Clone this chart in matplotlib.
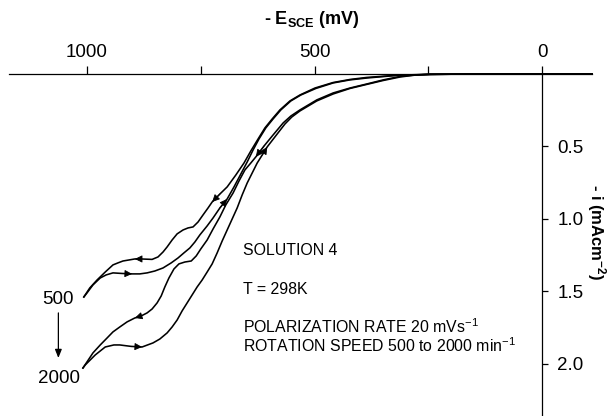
import numpy as np
import matplotlib
matplotlib.use("Agg")
import matplotlib.pyplot as plt

plt.rcParams['font.family'] = ['Liberation Sans', 'DejaVu Sans']
plt.rcParams['mathtext.fontset'] = 'custom'
plt.rcParams['mathtext.rm'] = 'Liberation Sans'
plt.rcParams['mathtext.it'] = 'Liberation Sans:italic'
plt.rcParams['mathtext.bf'] = 'Liberation Sans:bold'

# ---- data: -E (mV) vs -i (mA cm^-2) ----
# 500 min^-1, upper branch
A_E = [1007, 994, 978, 960, 943, 932, 921, 895, 881, 857, 844, 833, 824, 813, 802, 789, 778, 767, 756, 745, 734, 725, 708, 692,
       673, 655, 640, 624, 609, 593, 576, 554, 532, 499, 459, 422, 385, 319, 246, 136, -110]
A_i = [1.538, 1.476, 1.421, 1.366, 1.317, 1.303, 1.290, 1.276, 1.276, 1.279, 1.262, 1.228, 1.193, 1.145, 1.103, 1.076, 1.062, 1.055, 1.021, 0.972, 0.924, 0.883, 0.828, 0.779,
       0.697, 0.614, 0.531, 0.448, 0.372, 0.310, 0.248, 0.186, 0.145, 0.097, 0.059, 0.038, 0.024, 0.009, 0.002, 0.0, 0.0]
A_arrows = [895, 725]
# 500 min^-1, lower branch
B_E = [1007, 1000, 987, 971, 958, 943, 923, 901, 884, 868, 851, 833, 815, 800, 787, 774, 763, 752, 736, 723, 708, 692,
       677, 662, 648, 635, 622, 607, 591, 574, 552, 530, 497, 459, 422, 385, 319, 246, 136, -110]
B_i = [1.538, 1.510, 1.455, 1.407, 1.386, 1.372, 1.376, 1.379, 1.379, 1.372, 1.359, 1.338, 1.303, 1.269, 1.234, 1.200, 1.159, 1.110, 1.048, 0.993, 0.924, 0.862,
       0.779, 0.690, 0.607, 0.524, 0.448, 0.372, 0.310, 0.248, 0.186, 0.145, 0.100, 0.062, 0.041, 0.028, 0.010, 0.003, 0.0, 0.0]
B_arrows = [901, 692]
# 2000 min^-1, upper branch
C_E = [1009, 987, 971, 956, 943, 928, 912, 895, 881, 868, 857, 846, 837, 829, 820, 809, 798, 785, 771, 760, 750, 736, 723, 708,
       695, 679, 666, 653, 640, 629, 611, 593, 569, 552, 532, 495, 459, 422, 385, 349, 312, 279, 246, 136, -110]
C_i = [2.028, 1.924, 1.869, 1.821, 1.779, 1.745, 1.710, 1.683, 1.669, 1.648, 1.621, 1.579, 1.531, 1.469, 1.407, 1.345, 1.310, 1.297, 1.290, 1.255, 1.207, 1.145, 1.069, 0.986,
       0.903, 0.821, 0.738, 0.662, 0.614, 0.572, 0.497, 0.428, 0.338, 0.290, 0.248, 0.179, 0.131, 0.097, 0.069, 0.041, 0.017, 0.007, 0.003, 0.0, 0.0]
C_arrows = [895, 629]
# 2000 min^-1, lower branch
D_E = [1009, 1004, 982, 960, 941, 928, 903, 879, 855, 840, 824, 813, 802, 791, 780, 769, 758, 747, 736, 725, 714, 703, 692,
       681, 670, 659, 648, 637, 626, 615, 604, 587, 565, 550, 532, 495, 459, 422, 385, 349, 312, 279, 246, 136, -110]
D_i = [2.028, 2.007, 1.938, 1.883, 1.869, 1.869, 1.879, 1.883, 1.855, 1.828, 1.786, 1.745, 1.697, 1.634, 1.579, 1.524, 1.469, 1.421, 1.366, 1.310, 1.234, 1.152, 1.076,
       1.000, 0.924, 0.834, 0.752, 0.683, 0.614, 0.559, 0.503, 0.434, 0.345, 0.297, 0.255, 0.186, 0.138, 0.100, 0.072, 0.045, 0.021, 0.008, 0.003, 0.0, 0.0]
D_arrows = [879, 604]

x_ticks = [1000, 750, 500, 250, 0]
x_ticklabels = ['1000', '', '500', '', '0']
y_ticks = [0.5, 1.0, 1.5, 2.0]
y_ticklabels = ['0.5', '1.0', '1.5', '2.0']

fig = plt.figure(figsize=(6.11, 4.16), dpi=100)
ax = fig.add_axes([0, 0, 1, 1])
ax.set_xlim(1191.3, -151.6)
ax.set_ylim(2.359, -0.510)
ax.patch.set_alpha(0)

curves = [(A_E, A_i, A_arrows, 1), (B_E, B_i, B_arrows, -1),
          (C_E, C_i, C_arrows, 1), (D_E, D_i, D_arrows, -1)]
for E, I, arr, d in curves:
    ax.plot(E, I, color='black', lw=1.15, solid_joinstyle='round', zorder=3)
    for val in arr:
        k = E.index(val)
        ax.annotate('', xy=(E[k], I[k]), xytext=(E[k + d], I[k + d]),
                    arrowprops=dict(arrowstyle='-|>,head_length=0.45,head_width=0.22',
                                    color='black', lw=0.6, shrinkA=0, shrinkB=0),
                    zorder=4)

for s in ['left', 'bottom']:
    ax.spines[s].set_visible(False)
ax.spines['top'].set_position(('data', 0))
ax.spines['top'].set_bounds(1171, -110)
ax.spines['right'].set_position(('data', 0))
ax.spines['right'].set_bounds(0, 2.36)
for s in ['top', 'right']:
    ax.spines[s].set_linewidth(0.9)

ax.xaxis.set_ticks_position('top')
ax.yaxis.set_ticks_position('right')
ax.set_xticks(x_ticks)
ax.set_xticklabels(x_ticklabels)
ax.set_yticks(y_ticks)
ax.set_yticklabels(y_ticklabels)
ax.tick_params(axis='x', direction='out', length=5.5, width=0.9, pad=3.5, labelsize=13.5)
ax.tick_params(axis='y', direction='out', length=4.5, width=0.9, pad=6.5, labelsize=13.5)

ax.text(0.511, 0.952, r'- E$_{\mathbf{SCE}}$ (mV)', transform=ax.transAxes,
        ha='center', va='center', fontsize=13, fontweight='bold')
ax.text(0.977, 0.442, r'- i (mAcm$^{\mathbf{-2}}$)', transform=ax.transAxes,
        ha='center', va='center', fontsize=12, fontweight='bold', rotation=270)

ax.text(657, 1.221, 'SOLUTION 4', ha='left', va='center', fontsize=11.4)
ax.text(657, 1.486, 'T = 298K', ha='left', va='center', fontsize=11.4)
ax.text(657, 1.745, r'POLARIZATION RATE 20 mVs$^{\mathrm{-1}}$', ha='left', va='center', fontsize=11.4)
ax.text(657, 1.872, r'ROTATION SPEED 500 to 2000 min$^{\mathrm{-1}}$', ha='left', va='center', fontsize=11.4)

ax.text(1063, 1.555, '500', ha='center', va='center', fontsize=13.5)
ax.text(1062, 2.103, '2000', ha='center', va='center', fontsize=13.5)
ax.annotate('', xy=(1063, 1.959), xytext=(1063, 1.648),
            arrowprops=dict(arrowstyle='-|>,head_length=0.5,head_width=0.2',
                            color='black', lw=0.9, shrinkA=0, shrinkB=0))

fig.savefig('out.png', dpi=100)
